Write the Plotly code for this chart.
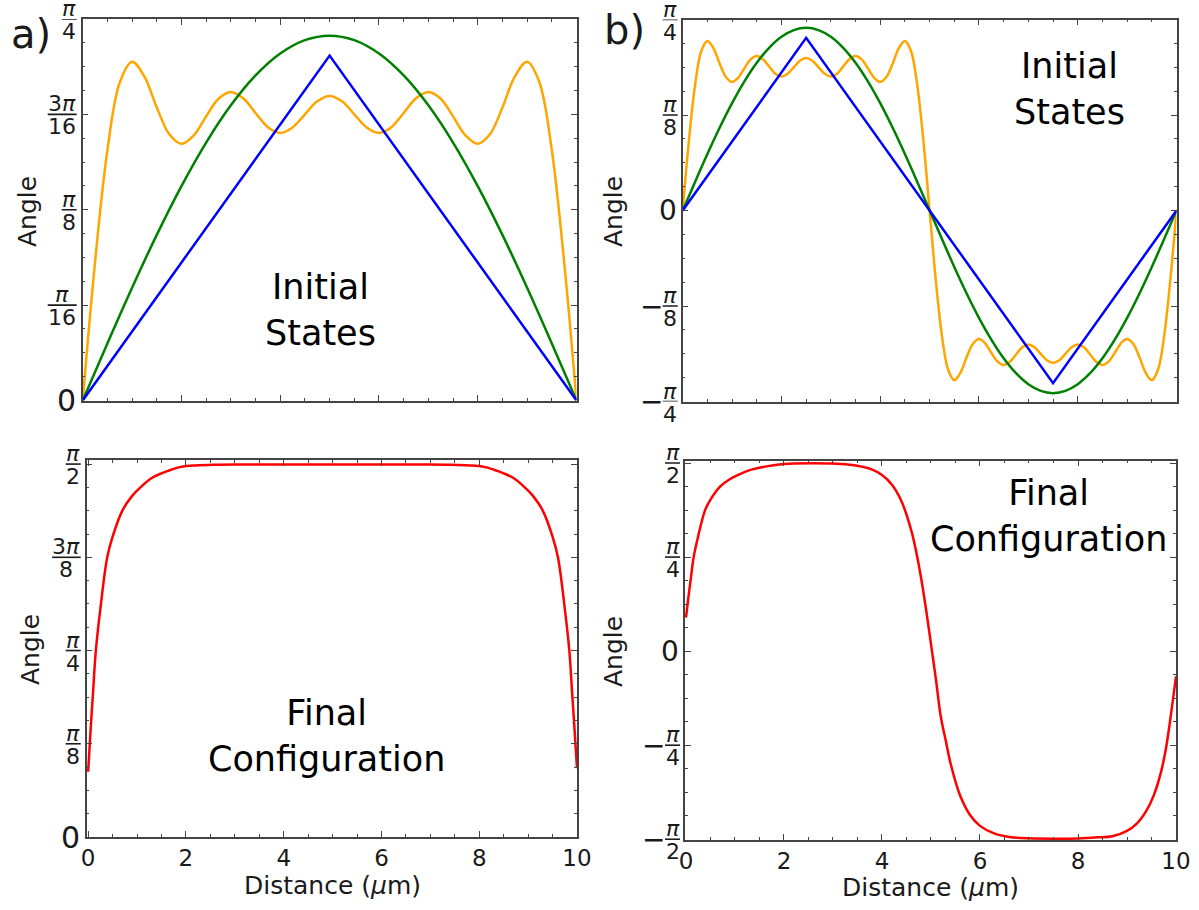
import math
import plotly.graph_objects as go

PI = math.pi

# ---------------- data (angles in radians, distance in micrometres) ----------------
# panel a) initial states
xa_orange = [0, 0.25, 0.5, 0.75, 1, 1.25, 1.5, 1.75, 2, 2.25, 2.5, 2.75, 3, 3.25, 3.5, 3.75, 4,
             4.25, 4.5, 4.75, 5, 5.25, 5.5, 5.75, 6, 6.25, 6.5, 6.75, 7, 7.25, 7.5, 7.75, 8,
             8.25, 8.5, 8.75, 9, 9.25, 9.5, 9.75, 10]
ya_orange = [0, 0.2851, 0.5153, 0.6547, 0.6974, 0.6667, 0.6033, 0.5486, 0.5284, 0.5459, 0.5850,
             0.6213, 0.6353, 0.6222, 0.5919, 0.5626, 0.5509, 0.5621, 0.5892, 0.6160, 0.6270,
             0.6160, 0.5892, 0.5621, 0.5509, 0.5626, 0.5919, 0.6222, 0.6353, 0.6213, 0.5850,
             0.5459, 0.5284, 0.5486, 0.6033, 0.6667, 0.6974, 0.6547, 0.5153, 0.2851, 0]
xa_green = [0, 0.5, 1, 1.5, 2, 2.5, 3, 3.5, 4, 4.5, 5, 5.5, 6, 6.5, 7, 7.5, 8, 8.5, 9, 9.5, 10]
ya_green = [0, 0.1175, 0.2321, 0.3410, 0.4414, 0.5310, 0.6076, 0.6691, 0.7143, 0.7418, 0.7510,
            0.7418, 0.7143, 0.6691, 0.6076, 0.5310, 0.4414, 0.3410, 0.2321, 0.1175, 0]
xa_blue = [0, 5, 10]
ya_blue = [0, 0.710, 0]

# panel b) initial states
xb_orange = [0, 0.125, 0.25, 0.375, 0.5, 0.625, 0.75, 0.875, 1, 1.125, 1.25, 1.375, 1.5, 1.625,
             1.75, 1.875, 2, 2.125, 2.25, 2.375, 2.5, 2.625, 2.75, 2.875, 3, 3.125, 3.25, 3.375,
             3.5, 3.625, 3.75, 3.875, 4, 4.125, 4.25, 4.375, 4.5, 4.625, 4.75, 4.875, 5, 5.125,
             5.25, 5.375, 5.5, 5.625, 5.75, 5.875, 6, 6.125, 6.25, 6.375, 6.5, 6.625, 6.75,
             6.875, 7, 7.125, 7.25, 7.375, 7.5, 7.625, 7.75, 7.875, 8, 8.125, 8.25, 8.375, 8.5,
             8.625, 8.75, 8.875, 9, 9.125, 9.25, 9.375, 9.5, 9.625, 9.75, 9.875, 10]
yb_orange = [0, 0.2851, 0.5153, 0.6547, 0.6974, 0.6667, 0.6033, 0.5486, 0.5284, 0.5459, 0.5850,
             0.6213, 0.6353, 0.6222, 0.5919, 0.5626, 0.5509, 0.5621, 0.5892, 0.6160, 0.6270,
             0.6160, 0.5892, 0.5621, 0.5509, 0.5626, 0.5919, 0.6222, 0.6353, 0.6213, 0.5850,
             0.5459, 0.5284, 0.5486, 0.6033, 0.6667, 0.6974, 0.6547, 0.5153, 0.2851, 0,
             -0.2851, -0.5153, -0.6547, -0.6974, -0.6667, -0.6033, -0.5486, -0.5284, -0.5459,
             -0.5850, -0.6213, -0.6353, -0.6222, -0.5919, -0.5626, -0.5509, -0.5621, -0.5892,
             -0.6160, -0.6270, -0.6160, -0.5892, -0.5621, -0.5509, -0.5626, -0.5919, -0.6222,
             -0.6353, -0.6213, -0.5850, -0.5459, -0.5284, -0.5486, -0.6033, -0.6667, -0.6974,
             -0.6547, -0.5153, -0.2851, 0]
xb_green = [0, 0.25, 0.5, 0.75, 1, 1.25, 1.5, 1.75, 2, 2.25, 2.5, 2.75, 3, 3.25, 3.5, 3.75, 4,
            4.25, 4.5, 4.75, 5, 5.25, 5.5, 5.75, 6, 6.25, 6.5, 6.75, 7, 7.25, 7.5, 7.75, 8,
            8.25, 8.5, 8.75, 9, 9.25, 9.5, 9.75, 10]
yb_green = [0, 0.1175, 0.2321, 0.3410, 0.4414, 0.5310, 0.6076, 0.6691, 0.7143, 0.7418, 0.7510,
            0.7418, 0.7143, 0.6691, 0.6076, 0.5310, 0.4414, 0.3410, 0.2321, 0.1175, 0,
            -0.1175, -0.2321, -0.3410, -0.4414, -0.5310, -0.6076, -0.6691, -0.7143, -0.7418,
            -0.7510, -0.7418, -0.7143, -0.6691, -0.6076, -0.5310, -0.4414, -0.3410, -0.2321,
            -0.1175, 0]
xb_blue = [0, 2.5, 7.5, 10]
yb_blue = [0, 0.710, -0.710, 0]

# panel a) final configuration
xa_final = [0, 0.05, 0.1, 0.157, 0.25, 0.39, 0.5, 0.7, 0.9, 1.08, 1.3, 1.5, 1.7, 1.9, 2.2, 2.6,
            3.0, 4.0, 5.0, 6.0, 7.0, 7.4, 7.8, 8.1, 8.3, 8.5, 8.7, 8.92, 9.1, 9.3, 9.5, 9.61,
            9.75, 9.843, 9.9, 9.95, 10.0]
ya_final = [0.275, 0.452, 0.609, 0.785, 0.962, 1.178, 1.265, 1.375, 1.437, 1.475, 1.512, 1.532,
            1.547, 1.559, 1.565, 1.568, 1.569, 1.569, 1.569, 1.569, 1.569, 1.568, 1.565, 1.559,
            1.547, 1.532, 1.512, 1.475, 1.437, 1.375, 1.265, 1.178, 0.962, 0.785, 0.609, 0.452,
            0.290]

# panel b) final configuration
xb_final = [0, 0.05, 0.1, 0.157, 0.25, 0.39, 0.5, 0.7, 0.9, 1.08, 1.3, 1.5, 1.7, 1.9, 2.2, 2.6,
            3.0, 3.4, 3.8, 4.0, 4.2, 4.4, 4.6, 4.7, 4.8, 4.9, 5.0, 5.1, 5.2, 5.3, 5.4, 5.6, 5.8,
            6.0, 6.3, 6.6, 7.0, 7.5, 8.0, 8.4, 8.7, 9.0, 9.2, 9.4, 9.55, 9.7, 9.8, 9.9, 10.0]
yb_final = [0.280, 0.452, 0.609, 0.785, 0.962, 1.178, 1.265, 1.375, 1.437, 1.475, 1.512, 1.532,
            1.547, 1.559, 1.566, 1.569, 1.566, 1.554, 1.516, 1.471, 1.392, 1.250, 1.005, 0.826,
            0.607, 0.347, 0.059, -0.233, -0.548, -0.744, -0.938, -1.212, -1.370, -1.459, -1.524,
            -1.552, -1.563, -1.566, -1.564, -1.555, -1.545, -1.500, -1.440, -1.330, -1.200,
            -1.000, -0.800, -0.520, -0.210]

# tick labels: (value, sign, numerator, denominator)
ticks_top_a = [(0, "", "0", None), (PI / 16, "", "π", "16"), (PI / 8, "", "π", "8"),
               (3 * PI / 16, "", "3π", "16"), (PI / 4, "", "π", "4")]
ticks_top_b = [(-PI / 4, "−", "π", "4"), (-PI / 8, "−", "π", "8"), (0, "", "0", None),
               (PI / 8, "", "π", "8"), (PI / 4, "", "π", "4")]
ticks_bot_a = [(0, "", "0", None), (PI / 8, "", "π", "8"), (PI / 4, "", "π", "4"),
               (3 * PI / 8, "", "3π", "8"), (PI / 2, "", "π", "2")]
ticks_bot_b = [(-PI / 2, "−", "π", "2"), (-PI / 4, "−", "π", "4"), (0, "", "0", None),
               (PI / 4, "", "π", "4"), (PI / 2, "", "π", "2")]
x_ticks = [0, 2, 4, 6, 8, 10]
x_tick_text = ["0", "2", "4", "6", "8", "10"]

ORANGE = "#FFA500"
GREEN = "#008000"
BLUE = "#0000FF"
RED = "#FF0000"
FONT = "DejaVu Sans"
AX = "#444444"
TXT = "#1a1a1a"

W, H = 1199, 910


def dom_x(p0, p1):
    return [p0 / W, p1 / W]


def dom_y(top, bottom):
    return [1 - bottom / H, 1 - top / H]


fig = go.Figure()

line_w = 2.5
fig.add_trace(go.Scatter(x=xa_orange, y=ya_orange, mode="lines", line=dict(color=ORANGE, width=line_w, shape="spline"), xaxis="x", yaxis="y"))
fig.add_trace(go.Scatter(x=xa_green, y=ya_green, mode="lines", line=dict(color=GREEN, width=line_w, shape="spline"), xaxis="x", yaxis="y"))
fig.add_trace(go.Scatter(x=xa_blue, y=ya_blue, mode="lines", line=dict(color=BLUE, width=line_w), xaxis="x", yaxis="y"))

fig.add_trace(go.Scatter(x=xb_orange, y=yb_orange, mode="lines", line=dict(color=ORANGE, width=line_w, shape="spline"), xaxis="x2", yaxis="y2"))
fig.add_trace(go.Scatter(x=xb_green, y=yb_green, mode="lines", line=dict(color=GREEN, width=line_w, shape="spline"), xaxis="x2", yaxis="y2"))
fig.add_trace(go.Scatter(x=xb_blue, y=yb_blue, mode="lines", line=dict(color=BLUE, width=line_w), xaxis="x2", yaxis="y2"))

fig.add_trace(go.Scatter(x=xa_final, y=ya_final, mode="lines", line=dict(color=RED, width=line_w, shape="spline"), xaxis="x3", yaxis="y3"))
fig.add_trace(go.Scatter(x=xb_final, y=yb_final, mode="lines", line=dict(color=RED, width=line_w, shape="spline"), xaxis="x4", yaxis="y4"))


def axis_common():
    return dict(showline=True, linecolor=AX, linewidth=1.5, mirror="allticks",
                ticks="inside", ticklen=6, tickwidth=1.2, tickcolor=AX,
                showgrid=False, zeroline=False, automargin=False)


def xaxis(domain, anchor, labels, rng):
    d = axis_common()
    d.update(domain=domain, anchor=anchor, range=rng, tickmode="array", tickvals=x_ticks,
             ticktext=x_tick_text, showticklabels=labels,
             tickfont=dict(family=FONT, size=23, color=TXT),
             minor=dict(ticks="inside", ticklen=3, tickwidth=1, tickcolor=AX, dtick=0.5, tick0=0,
                        showgrid=False))
    return d


def yaxis(domain, anchor, ticks, rng, minor_dtick):
    d = axis_common()
    d.update(domain=domain, anchor=anchor, range=rng, tickmode="array",
             tickvals=[t[0] for t in ticks], showticklabels=False,
             minor=dict(ticks="inside", ticklen=3, tickwidth=1, tickcolor=AX, dtick=minor_dtick,
                        tick0=0, showgrid=False))
    return d


fig.update_layout(
    width=W, height=H, margin=dict(l=0, r=0, t=0, b=0, autoexpand=False),
    paper_bgcolor="white", plot_bgcolor="white", showlegend=False,
    font=dict(family=FONT, color=TXT),
    xaxis=xaxis(dom_x(82.7, 576.5), "y", False, [0, 10]),
    yaxis=yaxis(dom_y(19, 400.5), "x", ticks_top_a, [0, PI / 4], PI / 64),
    xaxis2=xaxis(dom_x(682.7, 1176.5), "y2", False, [0, 10]),
    yaxis2=yaxis(dom_y(19.5, 401.5), "x2", ticks_top_b, [-PI / 4, PI / 4], PI / 32),
    xaxis3=xaxis(dom_x(86.7, 577), "y3", True, [-0.03, 10.0]),
    yaxis3=yaxis(dom_y(460, 837), "x3", ticks_bot_a, [0, 1.588], PI / 32),
    xaxis4=xaxis(dom_x(685, 1176), "y4", True, [-0.02, 10.0]),
    yaxis4=yaxis(dom_y(460.5, 840), "x4", ticks_bot_b, [-1.577, 1.592], PI / 16),
)

annotations = []
shapes = []

DIGIT = 0.636
PIW = 0.62


def text_w(s, fs):
    return sum((PIW if c == "π" else DIGIT) for c in s) * fs


def add_frac_ticks(xdom, yref, ticks, gap=6, fs=22, zero_fs=30):
    for v, sign, num, den in ticks:
        if den is None:
            annotations.append(dict(xref=xdom, yref=yref, x=0, y=v, text=num, showarrow=False,
                                    xanchor="right", yanchor="middle", xshift=-gap + 1,
                                    font=dict(family=FONT, size=zero_fs, color=TXT)))
            continue
        w = max(text_w(num, fs), text_w(den, fs)) + 1
        cx = -(gap + w / 2)
        shapes.append(dict(type="line", xref=xdom, xsizemode="pixel", xanchor=0,
                           x0=-(gap + w), x1=-gap, yref=yref, y0=v, y1=v,
                           line=dict(color=TXT, width=1.6)))
        annotations.append(dict(xref=xdom, yref=yref, x=0, y=v,
                                text=num.replace("π", "<i>π</i>"), showarrow=False,
                                xanchor="center", yanchor="bottom", xshift=cx, yshift=-4,
                                font=dict(family=FONT, size=fs, color=TXT)))
        annotations.append(dict(xref=xdom, yref=yref, x=0, y=v, text=den, showarrow=False,
                                xanchor="center", yanchor="top", xshift=cx, yshift=2,
                                font=dict(family=FONT, size=fs, color=TXT)))
        if sign:
            annotations.append(dict(xref=xdom, yref=yref, x=0, y=v, text=sign, showarrow=False,
                                    xanchor="right", yanchor="middle", xshift=-(gap + w - 2),
                                    font=dict(family=FONT, size=28, color=TXT)))


add_frac_ticks("x domain", "y", ticks_top_a, gap=6)
add_frac_ticks("x2 domain", "y2", ticks_top_b, gap=5, zero_fs=28)
add_frac_ticks("x3 domain", "y3", ticks_bot_a, gap=6)
add_frac_ticks("x4 domain", "y4", ticks_bot_b, gap=5, zero_fs=28)


def paper_text(px, py, text, size, angle=0):
    annotations.append(dict(xref="paper", yref="paper", x=px / W, y=1 - py / H, text=text,
                            showarrow=False, xanchor="center", yanchor="middle",
                            textangle=angle, font=dict(family=FONT, size=size, color=TXT)))


paper_text(27, 212, "Angle", 25, -90)
paper_text(613, 212, "Angle", 25, -90)
paper_text(30, 650, "Angle", 25, -90)
paper_text(613, 652, "Angle", 25, -90)
paper_text(332, 885, "Distance (<i>μ</i>m)", 25)
paper_text(930, 887, "Distance (<i>μ</i>m)", 25)
paper_text(31, 34, "a)", 40)
paper_text(624, 30, "b)", 40)

big = dict(family=FONT, size=35, color="black")
annotations.append(dict(xref="x", yref="y", x=4.81, y=0.1855, text="Initial<br>States",
                        showarrow=False, xanchor="center", yanchor="middle", font=big))
annotations.append(dict(xref="x2", yref="y2", x=7.84, y=0.499, text="Initial<br>States",
                        showarrow=False, xanchor="center", yanchor="middle", font=big))
annotations.append(dict(xref="x3", yref="y3", x=4.88, y=0.424, text="Final<br>Configuration",
                        showarrow=False, xanchor="center", yanchor="middle", font=big))
annotations.append(dict(xref="x4", yref="y4", x=7.39, y=1.128, text="Final<br>Configuration",
                        showarrow=False, xanchor="center", yanchor="middle", font=big))

fig.update_layout(annotations=annotations, shapes=shapes)
fig.write_html("out.html")
